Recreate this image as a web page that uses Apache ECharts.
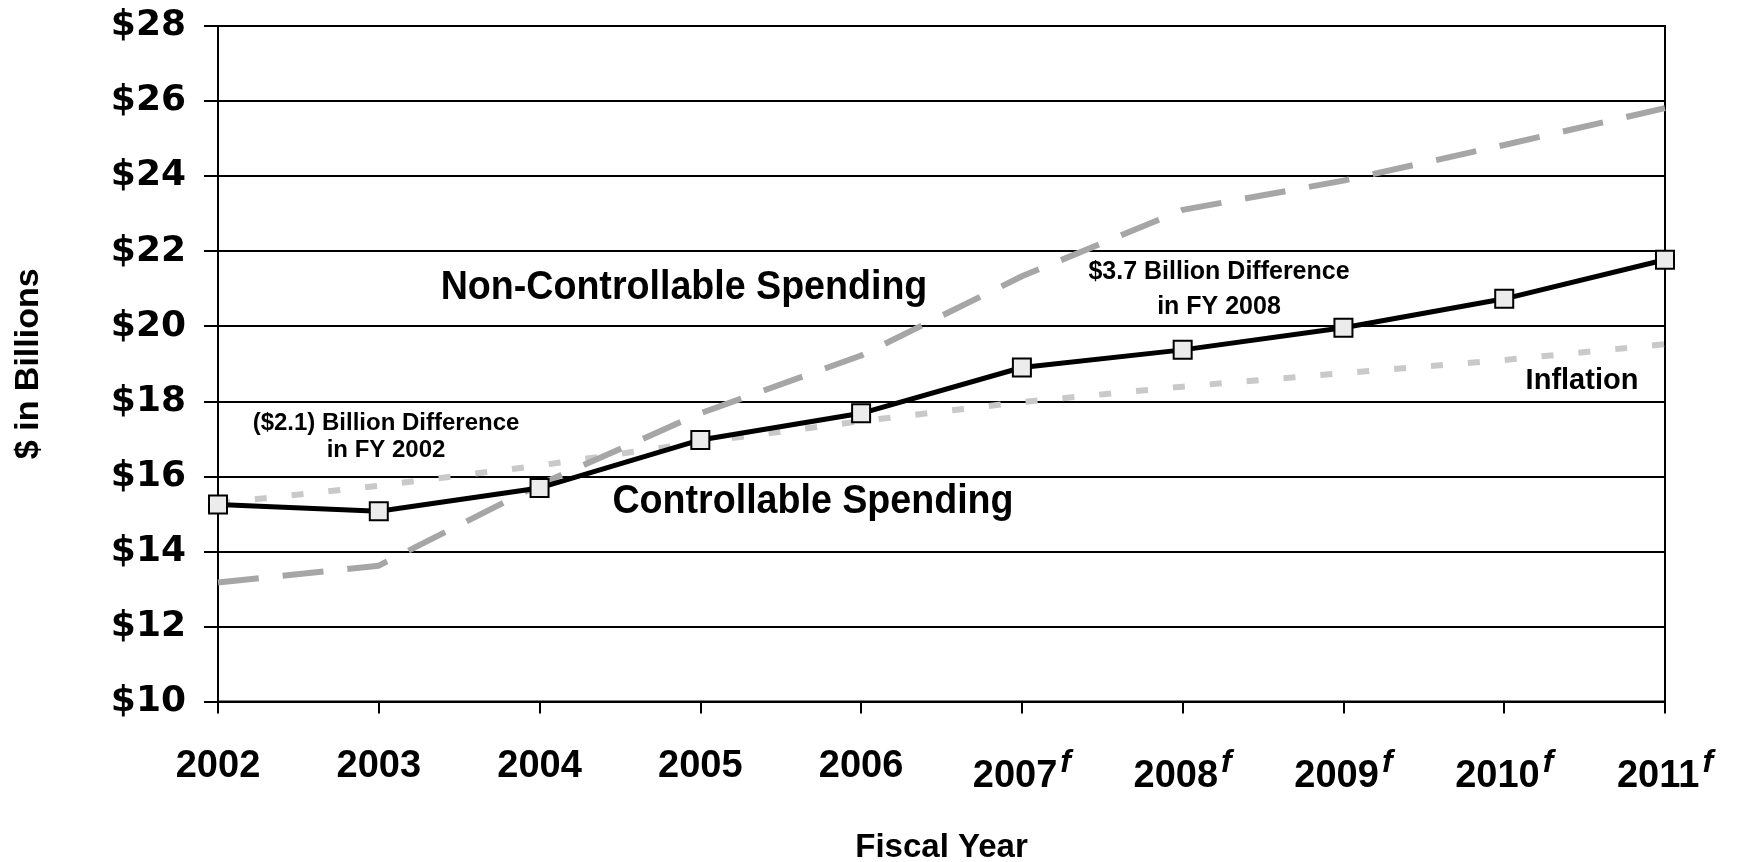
<!DOCTYPE html>
<html>
<head>
<meta charset="utf-8">
<script src="https://cdn.jsdelivr.net/npm/echarts@6/dist/echarts.min.js"></script>
<style>
  html, body { margin: 0; padding: 0; background: #fff; }
  #chart { width: 1746px; height: 862px; }
</style>
</head>
<body>
<div id="chart"></div>
<script>
// Fiscal years; forecast years carry an italic superscript "f"
const years = ['2002', '2003', '2004', '2005', '2006', '2007', '2008', '2009', '2010', '2011'];
const forecast = [false, false, false, false, false, true, true, true, true, true];

// $ in billions
const controllable    = [15.25, 15.07, 15.69, 16.97, 17.68, 18.90, 19.37, 19.96, 20.73, 21.77];
const nonControllable = [13.17, 13.62, 15.78, 17.68, 19.22, 21.33, 23.10, 23.88, 24.83, 25.81];
const inflation       = [15.28, 15.75, 16.29, 16.91, 17.47, 17.98, 18.39, 18.75, 19.10, 19.52];

const yTicks = { min: 10, max: 28, step: 2 };

const sans = "'Liberation Sans', Arial, sans-serif";
const wideSans = "'DejaVu Sans', 'Liberation Sans', sans-serif";

const chart = echarts.init(document.getElementById('chart'), null, { renderer: 'canvas' });

// Free-floating chart notes; sx squeezes the glyphs horizontally
function note(text, x, y, size, sx, lh) {
  return {
    type: 'text', x: x, y: y, scaleX: sx, z: 100,
    style: {
      text: text, fill: '#000', font: 'bold ' + size + 'px ' + sans,
      textAlign: 'center', textVerticalAlign: 'middle', lineHeight: lh || size * 1.2
    }
  };
}

chart.setOption({
  backgroundColor: '#fff',
  animation: false,
  grid: {
    left: 218, right: 81, top: 26, bottom: 160.5,
    outerBoundsMode: 'none', containLabel: false,
    show: true, borderColor: '#000', borderWidth: 2, backgroundColor: 'transparent'
  },
  xAxis: {
    type: 'category',
    data: years,
    boundaryGap: false,
    axisLine: { lineStyle: { color: '#000', width: 2 } },
    axisTick: { show: true, length: 12, lineStyle: { color: '#000', width: 2 } },
    axisLabel: {
      margin: 46,
      color: '#000',
      formatter: function (v, i) {
        return forecast[i] ? '{y|' + v + '}{f|f}' : '{y|' + v + '}';
      },
      rich: {
        y: { fontFamily: sans, fontWeight: 'bold', fontSize: 38, color: '#000', verticalAlign: 'bottom' },
        f: { fontFamily: sans, fontWeight: 'bold', fontStyle: 'italic', fontSize: 32, color: '#000',
             verticalAlign: 'bottom', padding: [0, 0, 16, 3] }
      }
    },
    name: 'Fiscal Year',
    nameLocation: 'middle',
    nameGap: 130,
    nameTextStyle: { fontFamily: sans, fontWeight: 'bold', fontSize: 33, color: '#000' }
  },
  yAxis: {
    type: 'value',
    min: yTicks.min, max: yTicks.max, interval: yTicks.step,
    axisLine: { show: true, lineStyle: { color: '#000', width: 2 } },
    axisTick: { show: true, length: 14, lineStyle: { color: '#000', width: 2 } },
    splitLine: { show: true, lineStyle: { color: '#000', width: 2 } },
    axisLabel: {
      margin: 32, color: '#000', fontFamily: wideSans, fontWeight: 'bold', fontSize: 36,
      formatter: function (v) { return '$' + v; }
    },
    name: '$ in Billions',
    nameLocation: 'middle',
    nameRotate: 90,
    nameGap: 172,
    nameTextStyle: { fontFamily: sans, fontWeight: 'bold', fontSize: 34, color: '#000' }
  },
  series: [
    {
      name: 'Inflation', type: 'line', data: inflation,
      symbol: 'none', z: 2,
      lineStyle: { color: '#c9c9c9', width: 6, type: [12, 25] }
    },
    {
      name: 'Non-Controllable Spending', type: 'line', data: nonControllable,
      symbol: 'none', z: 3,
      lineStyle: { color: '#a6a6a6', width: 6, type: [41, 24] }
    },
    {
      name: 'Controllable Spending', type: 'line', data: controllable,
      symbol: 'rect', symbolSize: 18, z: 4,
      lineStyle: { color: '#000', width: 5 },
      itemStyle: { color: '#ececec', borderColor: '#000', borderWidth: 2 }
    }
  ],
  graphic: [
    note('Non-Controllable Spending', 684, 288, 40, 0.94),
    note('Controllable Spending', 813, 502, 40, 0.94),
    note('($2.1) Billion Difference\nin FY 2002', 386, 437, 24, 1, 27),
    note('$3.7 Billion Difference\nin FY 2008', 1219, 290, 25, 1, 35),
    note('Inflation', 1582, 381, 29, 1)
  ]
});
</script>
</body>
</html>
